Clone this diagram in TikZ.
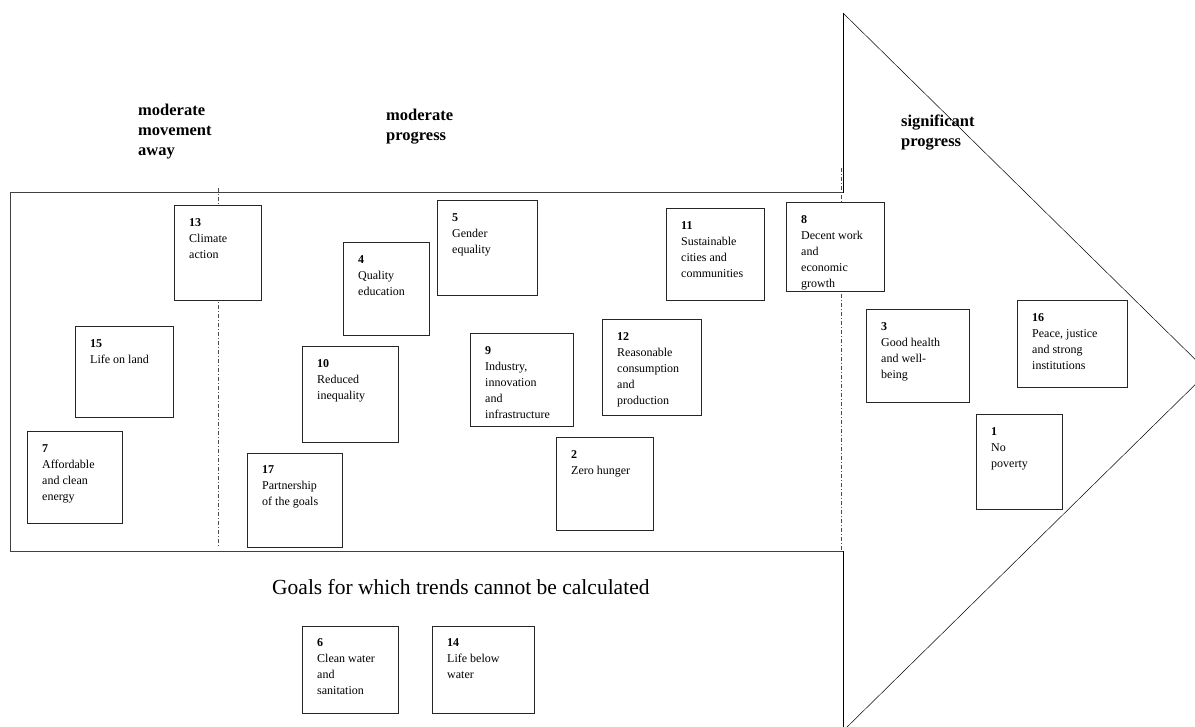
\documentclass[tikz,border=0pt]{standalone}
\usepackage{fontspec}
\setmainfont{Liberation Serif}
\usetikzlibrary{positioning}

\tikzset{
  goalbox/.style={fill=white,inner sep=0pt,outer sep=0pt},
  goalline/.style={draw=black!85,line width=1pt},
  goaltext/.style={align=left,inner sep=0pt,font=\fontsize{12}{16}\selectfont},
  trendlabel/.style={anchor=north west,align=left,inner sep=0pt,
    font=\fontsize{16.5}{20}\selectfont\bfseries},
  divider/.style={draw=black!70,line width=0.8pt,
    dash pattern=on 4pt off 2pt on 1pt off 2pt},
  outline/.style={draw=black!75,line width=1pt},
}

% box from (x1,y1) to (x2,y2), number and text inside at the top left
\newcommand{\goal}[7]{%
  \node[goalbox,minimum width={(#4-#2)*1pt},minimum height={(#5-#3)*1pt}]
    (#1) at ({(#2+#4)/2},{(#3+#5)/2}) {};
  \begin{scope}
    \clip (#1.south west) rectangle (#1.north east);
    \node[goaltext,below right=12pt and 15pt of #1.north west] (#1txt)
      {\textbf{#6}\\#7};
  \end{scope}
  \draw[goalline] (#1.south west) rectangle (#1.north east);
}

\begin{document}
\begin{tikzpicture}[x=1pt,y=-1pt]
  \useasboundingbox (0,0) rectangle (1195,727);
  % arrow
  \draw[outline] (843,193) -- (10,193) -- (10,551) -- (843,551);
  \draw[line width=0.9pt] (843,193) -- (843,13);
  \draw[line width=0.9pt] (843,551) -- (843,731);
  \draw[line width=0.5pt] (843,13) -- (1208,372) -- (843,731);
  % dividers
  \draw[divider] (218,188) -- (218,547);
  \draw[divider] (841,168) -- (841,551);
  % headings
  \node[trendlabel] (away) at (138,104) {moderate\\movement\\away};
  \node[trendlabel] (moderate) at (386,109) {moderate\\progress};
  \node[trendlabel] (significant) at (901,115) {significant\\progress};
  % goals
  \goal{g13}{174}{206}{261}{301}{13}{Climate\\action}
  \goal{g4}{343}{243}{429}{336}{4}{Quality\\education}
  \goal{g5}{437}{201}{537}{296}{5}{Gender\\equality}
  \goal{g11}{666}{209}{764}{301}{11}{Sustainable\\cities and\\communities}
  \goal{g8}{786}{203}{884}{292}{8}{Decent work\\and\\economic\\growth}
  \goal{g15}{75}{327}{173}{418}{15}{Life on land}
  \goal{g10}{302}{347}{398}{442}{10}{Reduced\\inequality}
  \goal{g9}{470}{334}{573}{427}{9}{Industry,\\innovation\\and\\infrastructure}
  \goal{g12}{602}{320}{701}{416}{12}{Reasonable\\consumption\\and\\production}
  \goal{g3}{866}{310}{969}{403}{3}{Good health\\and well-\\being}
  \goal{g16}{1017}{301}{1127}{388}{16}{Peace, justice\\and strong\\institutions}
  \goal{g1}{976}{415}{1062}{509}{1}{No\\poverty}
  \goal{g7}{27}{432}{122}{523}{7}{Affordable\\and clean\\energy}
  \goal{g17}{247}{453}{342}{547}{17}{Partnership\\of the goals}
  \goal{g2}{556}{438}{653}{530}{2}{Zero hunger}
  % goals without trend
  \node[font=\fontsize{21.5}{24}\selectfont,anchor=base west,inner sep=0pt]
    (notrend) at (272,594) {Goals for which trends cannot be calculated};
  \goal{g6}{302}{626}{398}{713}{6}{Clean water\\and\\sanitation}
  \goal{g14}{432}{626}{534}{713}{14}{Life below\\water}
\end{tikzpicture}
\end{document}
